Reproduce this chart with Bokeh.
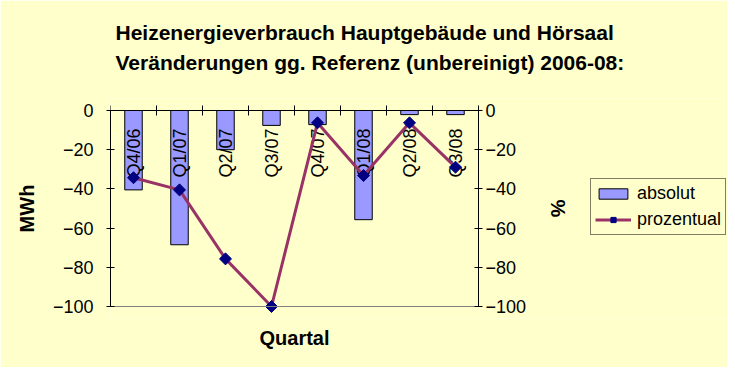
import math
from bokeh.plotting import figure
from bokeh.models import (Range1d, LinearAxis, FixedTicker, Title, Legend,
                          LegendItem, ColumnDataSource)
from bokeh.core.properties import value
from bokeh.embed import file_html
from bokeh.resources import INLINE

# ---- data -------------------------------------------------------------
categories = ["Q4/06", "Q1/07", "Q2/07", "Q3/07", "Q4/07", "Q1/08", "Q2/08", "Q3/08"]
absolut = [-40.5, -68.5, -20.0, -7.6, -7.2, -55.7, -2.1, -2.1]          # MWh
prozentual = [-34.3, -40.5, -75.7, -100.0, -6.3, -33.2, -6.3, -28.9]   # %
y_ticks = [0, -20, -40, -60, -80, -100]
pct_ticks = [0, -20, -40, -60, -80, -100]
y_lo, y_hi = -100, 0

title_1 = "Heizenergieverbrauch Hauptgebäude und Hörsaal"
title_2 = "Veränderungen gg. Referenz (unbereinigt) 2006-08:"
x_title = "Quartal"

BG = "#FFFFCC"
FONT = "Liberation Sans"
BAR_FILL = "#9999FF"
LINE_COL = "#993366"
MARK_COL = "#000080"

# ---- layout geometry (pixels) --------------------------------------------
W, H = 727, 367
PLOT_L, PLOT_R, PLOT_T, PLOT_B = 110, 478, 110, 306   # plot area of the chart
EXT = 12                                              # frame margin so end labels are not clipped
n = len(categories)
x_end = n * (W - PLOT_L) / (PLOT_R - PLOT_L)          # frame extends right for the legend
u_per_px = (y_hi - y_lo) / (PLOT_B - PLOT_T)
y_range = (y_lo - EXT * u_per_px, y_hi + EXT * u_per_px)

xpos = [i + 0.5 for i in range(n)]
src = ColumnDataSource(dict(x=xpos, cat=categories, absolut=absolut, prozentual=prozentual))

p = figure(width=W, height=H, output_backend="svg", toolbar_location=None,
           x_range=Range1d(0, x_end), y_range=Range1d(*y_range),
           x_axis_type=None, y_axis_type=None,
           min_border_left=PLOT_L, min_border_right=0, min_border_top=PLOT_T - EXT,
           min_border_bottom=H - PLOT_B - EXT,
           background_fill_color=BG, border_fill_color=BG, outline_line_color=None)
p.extra_y_ranges = {"pct": Range1d(*y_range)}

# top category axis (crosses at 0): ticks at category boundaries, no labels
top = LinearAxis(ticker=FixedTicker(ticks=[], minor_ticks=list(range(n + 1))),
                 bounds=(0, n), fixed_location=y_hi,
                 minor_tick_in=5, minor_tick_out=5, minor_tick_line_color="black",
                 major_tick_line_color=None, axis_line_color="black")
p.add_layout(top, "above")

# bottom border line of the plot area
bottom = LinearAxis(ticker=FixedTicker(ticks=[]), bounds=(0, n), fixed_location=y_lo,
                    axis_line_color="#808080",
                    major_tick_line_color=None, minor_tick_line_color=None)
p.add_layout(bottom, "below")

def yaxis(**kw):
    return LinearAxis(major_label_text_font=FONT, major_label_text_font_size="18px",
                      major_label_text_color="black", bounds=(y_lo, y_hi),
                      axis_label_text_font=FONT, axis_label_text_font_size="20px",
                      axis_label_text_font_style="bold", axis_label_text_color="black",
                      major_tick_in=4, major_tick_out=4, minor_tick_line_color=None,
                      axis_line_color="black", major_tick_line_color="black", **kw)

left = yaxis(ticker=FixedTicker(ticks=y_ticks), axis_label="MWh",
             major_label_standoff=13, axis_label_standoff=12)
p.add_layout(left, "left")
right = yaxis(ticker=FixedTicker(ticks=pct_ticks), axis_label="%", y_range_name="pct",
              fixed_location=n, major_label_standoff=3, axis_label_standoff=18)
p.add_layout(right, "right")

p.add_layout(Title(text=title_1 + "\n" + title_2 + "\n", align="left", offset=5, standoff=-10,
                   text_line_height=1.30, text_font=FONT,
                   text_font_size="21px", text_font_style="bold", text_color="black"), "above")
p.add_layout(Title(text=x_title, align="left", offset=149, standoff=12, text_font=FONT,
                   text_font_size="20px", text_font_style="bold", text_color="black"), "below")

# ---- glyphs -----------------------------------------------------------
bars = p.vbar(x="x", top="absolut", bottom=0, width=0.38, source=src,
              fill_color=BAR_FILL, line_color="black", line_width=1)
p.text(x="x", y=0, text="cat", source=src, angle=math.pi / 2, text_align="left",
       text_baseline="middle", y_offset=67, text_font=value(FONT),
       text_font_size="18px", text_color="black")
line = p.line(x="x", y="prozentual", source=src, y_range_name="pct",
              line_color=LINE_COL, line_width=3)
pts = p.scatter(x="x", y="prozentual", source=src, y_range_name="pct",
                marker="square", angle=math.pi / 4, size=8.5,
                fill_color=MARK_COL, line_color=MARK_COL)

legend = Legend(items=[LegendItem(label="absolut", renderers=[bars]),
                       LegendItem(label="prozentual", renderers=[line, pts])],
                location=(480, 83), orientation="vertical",
                label_text_font=FONT, label_text_font_size="18px", label_text_color="black",
                label_height=20, glyph_height=13, glyph_width=36, label_standoff=6,
                spacing=5, padding=4, margin=0,
                border_line_color="black", border_line_width=1,
                background_fill_color=BG, background_fill_alpha=1)
p.add_layout(legend)

open("out.html", "w").write(file_html(p, INLINE))
